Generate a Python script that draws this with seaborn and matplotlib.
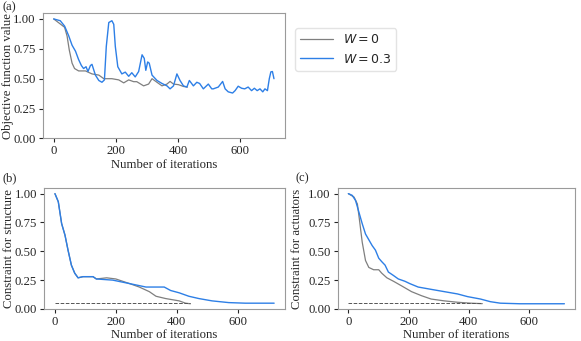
import matplotlib
matplotlib.use("Agg")
import matplotlib.pyplot as plt
import seaborn as sns
import numpy as np

# (a) objective function value
obj_w0_x = [0, 35, 43, 50, 59, 67, 80, 102, 123, 145, 161, 187, 209, 225, 241, 257,
            267, 289, 305, 316, 332, 348, 364, 374, 385, 401, 417, 430]
obj_w0_y = [1.0, 0.93, 0.856, 0.74, 0.63, 0.585, 0.565, 0.565, 0.54, 0.53, 0.50, 0.50,
            0.49, 0.465, 0.49, 0.475, 0.475, 0.44, 0.455, 0.50, 0.47, 0.44, 0.455,
            0.477, 0.455, 0.45, 0.435, 0.43]

obj_w03_x = [0, 21, 35, 48, 59, 70, 80, 89, 96, 104, 110, 118, 123, 134, 145, 155, 163,
             169, 177, 187, 193, 198, 206, 219, 230, 241, 251, 262, 273, 284, 291, 296,
             302, 307, 316, 332, 348, 364, 374, 385, 396, 406, 417, 428, 436, 449, 460,
             469, 481, 497, 508, 513, 529, 543, 551, 561, 575, 583, 593, 604, 614, 625,
             636, 645, 654, 663, 672, 679, 687, 693, 698, 703, 708]
obj_w03_y = [1.0, 0.985, 0.94, 0.86, 0.78, 0.73, 0.66, 0.61, 0.585, 0.60, 0.56, 0.61,
             0.62, 0.53, 0.485, 0.47, 0.49, 0.77, 0.97, 0.985, 0.955, 0.77, 0.60, 0.54,
             0.555, 0.52, 0.55, 0.515, 0.56, 0.70, 0.67, 0.57, 0.64, 0.63, 0.53, 0.485,
             0.46, 0.44, 0.415, 0.44, 0.54, 0.485, 0.44, 0.43, 0.485, 0.44, 0.47, 0.46,
             0.415, 0.455, 0.415, 0.415, 0.43, 0.477, 0.415, 0.39, 0.38, 0.40, 0.437,
             0.42, 0.415, 0.43, 0.40, 0.42, 0.40, 0.415, 0.39, 0.415, 0.40, 0.50, 0.557,
             0.56, 0.50]

# (b) constraint for structure
struct_w0_x = [0, 11, 22, 33, 43, 54, 65, 76, 92, 125, 136, 170, 200, 245, 277, 310,
               332, 364, 408, 429, 445]
struct_w0_y = [1.0, 0.93, 0.74, 0.64, 0.51, 0.38, 0.31, 0.27, 0.28, 0.28, 0.26, 0.27,
               0.26, 0.22, 0.19, 0.15, 0.11, 0.09, 0.07, 0.05, 0.045]

struct_w03_x = [0, 11, 22, 33, 43, 54, 65, 76, 92, 125, 136, 190, 245, 299, 332, 359,
                380, 408, 440, 473, 516, 571, 625, 720]
struct_w03_y = [1.0, 0.93, 0.74, 0.64, 0.51, 0.38, 0.31, 0.27, 0.28, 0.28, 0.26, 0.25,
                0.22, 0.19, 0.19, 0.19, 0.16, 0.14, 0.11, 0.09, 0.07, 0.055, 0.05, 0.05]

# (c) constraint for actuators
act_w0_x = [0, 19, 30, 37, 46, 57, 68, 84, 101, 111, 128, 150, 177, 210, 243, 275,
            319, 363, 407, 445]
act_w0_y = [1.0, 0.97, 0.91, 0.77, 0.58, 0.42, 0.36, 0.34, 0.34, 0.31, 0.27, 0.24,
            0.20, 0.15, 0.115, 0.086, 0.07, 0.058, 0.05, 0.046]

act_w03_x = [0, 13, 24, 35, 46, 57, 68, 79, 90, 101, 111, 122, 133, 150, 166, 188, 204,
             232, 275, 319, 363, 396, 439, 472, 505, 570, 718]
act_w03_y = [1.0, 0.985, 0.94, 0.84, 0.74, 0.65, 0.60, 0.55, 0.51, 0.44, 0.41, 0.38,
             0.32, 0.29, 0.26, 0.24, 0.22, 0.19, 0.17, 0.15, 0.13, 0.107, 0.086, 0.063,
             0.05, 0.045, 0.045]

threshold = 0.05
threshold_end = 445

labels = ["$W = 0$", "$W = 0.3$"]
colors = ["#7f7f7f", "#2d7fe6"]

sns.set_style("ticks")
plt.rcParams["font.family"] = ["Liberation Serif", "DejaVu Serif"]
plt.rcParams["mathtext.fontset"] = "dejavusans"

FS = 9.2

fig = plt.figure(figsize=(5.81, 3.41), dpi=100)
ax_a = fig.add_axes([0.0735, 0.594, 0.417, 0.368])
ax_b = fig.add_axes([0.0757, 0.094, 0.415, 0.355])
ax_c = fig.add_axes([0.581, 0.094, 0.409, 0.355])


def draw(ax, x0, y0, x1, y1, ylabel, label_x, dashed=True):
    sns.lineplot(x=x0, y=y0, ax=ax, color=colors[0], lw=0.9, label=labels[0])
    sns.lineplot(x=x1, y=y1, ax=ax, color=colors[1], lw=1.0, label=labels[1])
    if dashed:
        ax.plot([0, threshold_end], [threshold, threshold], ls="--", color="#555555", lw=0.7)
    ax.set_ylim(0, 1.05)
    ax.set_yticks([0, 0.25, 0.5, 0.75, 1.0])
    ax.set_xticks([0, 200, 400, 600])
    ax.set_xlabel("Number of iterations", fontsize=FS, labelpad=1)
    ax.set_ylabel(ylabel, fontsize=FS)
    ax.yaxis.set_label_coords(label_x, 0.5)
    ax.tick_params(labelsize=FS, length=3, pad=2)
    for s in ax.spines.values():
        s.set_color("#9a9a9a")
    ax.get_legend().remove()


draw(ax_a, obj_w0_x, obj_w0_y, obj_w03_x, obj_w03_y, "Objective function value",
     -0.117, dashed=False)
draw(ax_b, struct_w0_x, struct_w0_y, struct_w03_x, struct_w03_y,
     "Constraint for structure", -0.122)
draw(ax_c, act_w0_x, act_w0_y, act_w03_x, act_w03_y, "Constraint for actuators", -0.144)

handles, labs = ax_a.get_legend_handles_labels()
leg = fig.legend(handles, labs, loc="upper left", bbox_to_anchor=(0.497, 0.935),
                 prop={"family": "DejaVu Sans", "size": 9}, frameon=True,
                 handlelength=2.6, borderpad=0.4)
leg.get_frame().set_edgecolor("#dddddd")

fig.text(0.004, 0.978, "(a)", fontsize=9, va="center")
fig.text(0.004, 0.478, "(b)", fontsize=9, va="center")
fig.text(0.509, 0.478, "(c)", fontsize=9, va="center")

fig.savefig("out.png", dpi=100)
